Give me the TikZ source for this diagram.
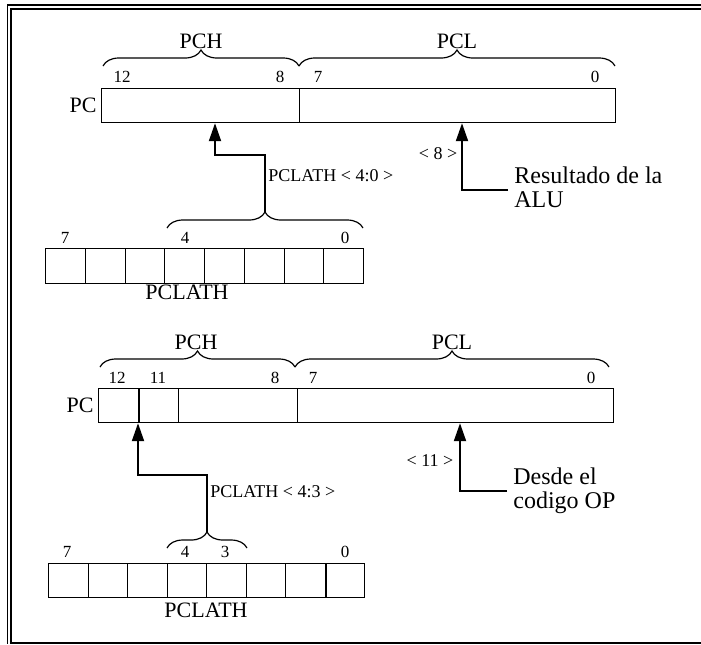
\documentclass[tikz,border=0pt]{standalone}
\usepackage{fontspec}
\setmainfont{Liberation Serif}
\usetikzlibrary{positioning,arrows.meta,decorations.pathreplacing}

\begin{document}
\begin{tikzpicture}[x=0.5pt, y=-0.5pt,
  every node/.style={inner sep=0pt},
  registro/.style={
    draw, line width=0.6pt,
    rectangle, anchor=north west,
    minimum height=17pt
  },
  llave/.style={
    decorate, decoration={brace, amplitude=8pt},
    line width=0.6pt
  },
  flecha/.style={-{Triangle[length=9pt,width=6pt]}, line width=1pt},
  nombre/.style={font=\fontsize{11}{13}\selectfont},
  bit/.style={font=\fontsize{8.5}{10}\selectfont},
  etiq/.style={font=\fontsize{9}{10}\selectfont, anchor=west},
  origen/.style={
    font=\fontsize{12}{12}\selectfont,
    align=left, anchor=north west,
    inner xsep=3pt
  },
  marco/.style={line width=0.8pt},
  divisor/.style={line width=1.1pt}
]
  \useasboundingbox (0,0) rectangle (701,644);

  % Marco doble
  \draw[marco] (701,5) -| (7.5,644);
  \draw[marco] (701,9) -| (11,643) -- (701,643);

  % ---- Caso 1: PCL como destino de la ALU ----
  % Registro PC
  \node[registro, minimum width=99pt] (pcA) at (101,88) {};
  \node[registro, minimum width=158pt] (pcB) at (299,88) {};
  \node[nombre, left=2pt of pcA] (pcAn) {PC};

  % Llaves PCH / PCL
  \draw[llave] (103,66) -- (299,66);
  \node[nombre] (pchA) at (201,41) {PCH};
  \draw[llave] (299,66) -- (615,66);
  \node[nombre] (pclA) at (457,41) {PCL};

  % Bits
  \foreach \t/\x in {12/122, 8/280, 7/318, 0/595}
    \node[bit] (bitA\t) at (\x,77) {\t};

  % Registro PCLATH
  \foreach \i in {0,...,7}
    \node[registro, minimum width=19.875pt, minimum height=17.5pt] (latA\i) at ({45+\i*39.75},248) {};
  \foreach \t/\x in {7/65, 4/185, 0/345}
    \node[bit] (bitLA\t) at (\x,238) {\t};
  \node[nombre] (latAn) at (187,292) {PCLATH};
  \draw[llave] (167,228) -- (363,228);

  % Flechas
  \coordinate (puntaA) at (265,212);
  \coordinate (codoA) at (215,155);
  \draw[flecha] (puntaA) |- (codoA) -- (codoA |- pcA.south);
  \node[etiq] (selA) at (268,176) {PCLATH < 4:0 >};

  \node[origen] (alu) at (508,166) {Resultado de la\\ALU};
  \coordinate (codoB) at (462,190);
  \draw[flecha] (alu.west |- codoB) -- (codoB) -- (codoB |- pcB.south);
  \node[etiq, anchor=center] (ocho) at (438,154) {< 8 >};

  % ---- Caso 2: salto con codigo OP ----
  % Registro PC
  \node[registro, minimum width=20pt] (pcC1) at (98,388) {};
  \node[registro, minimum width=20pt] (pcC2) at (138,388) {};
  \node[registro, minimum width=59.5pt] (pcC3) at (178,388) {};
  \node[registro, minimum width=158pt] (pcC4) at (297,388) {};
  \draw[divisor] (pcC1.north east) -- (pcC1.south east);
  \node[nombre, left=2pt of pcC1] (pcCn) {PC};

  % Llaves PCH / PCL
  \draw[llave] (100,367) -- (295,367);
  \node[nombre] (pchB) at (196,342) {PCH};
  \draw[llave] (295,367) -- (609,367);
  \node[nombre] (pclB) at (452,342) {PCL};

  % Bits
  \foreach \t/\x in {12/117, 11/158, 8/275, 7/313, 0/591}
    \node[bit] (bitB\t) at (\x,378) {\t};

  % Registro PCLATH
  \foreach \i in {0,...,7}
    \node[registro, minimum width=19.75pt] (latB\i) at ({48+\i*39.5},563) {};
  \draw[divisor] (latB6.north east) -- (latB6.south east);
  \foreach \t/\x in {7/67, 4/185, 3/225, 0/345}
    \node[bit] (bitLB\t) at (\x,552) {\t};
  \node[nombre] (latBn) at (206,610) {PCLATH};
  \draw[llave] (167,548) -- (247,548);

  % Flechas
  \coordinate (puntaB) at (207,532);
  \coordinate (codoC) at (138,475);
  \draw[flecha] (puntaB) |- (codoC) -- (codoC |- pcC1.south);
  \node[etiq] (selB) at (210,492) {PCLATH < 4:3 >};

  \node[origen] (op) at (507,467) {Desde el\\codigo OP};
  \coordinate (codoD) at (460,491);
  \draw[flecha] (op.west |- codoD) -- (codoD) -- (codoD |- pcC4.south);
  \node[etiq, anchor=center] (once) at (430,461) {< 11 >};
\end{tikzpicture}
\end{document}
